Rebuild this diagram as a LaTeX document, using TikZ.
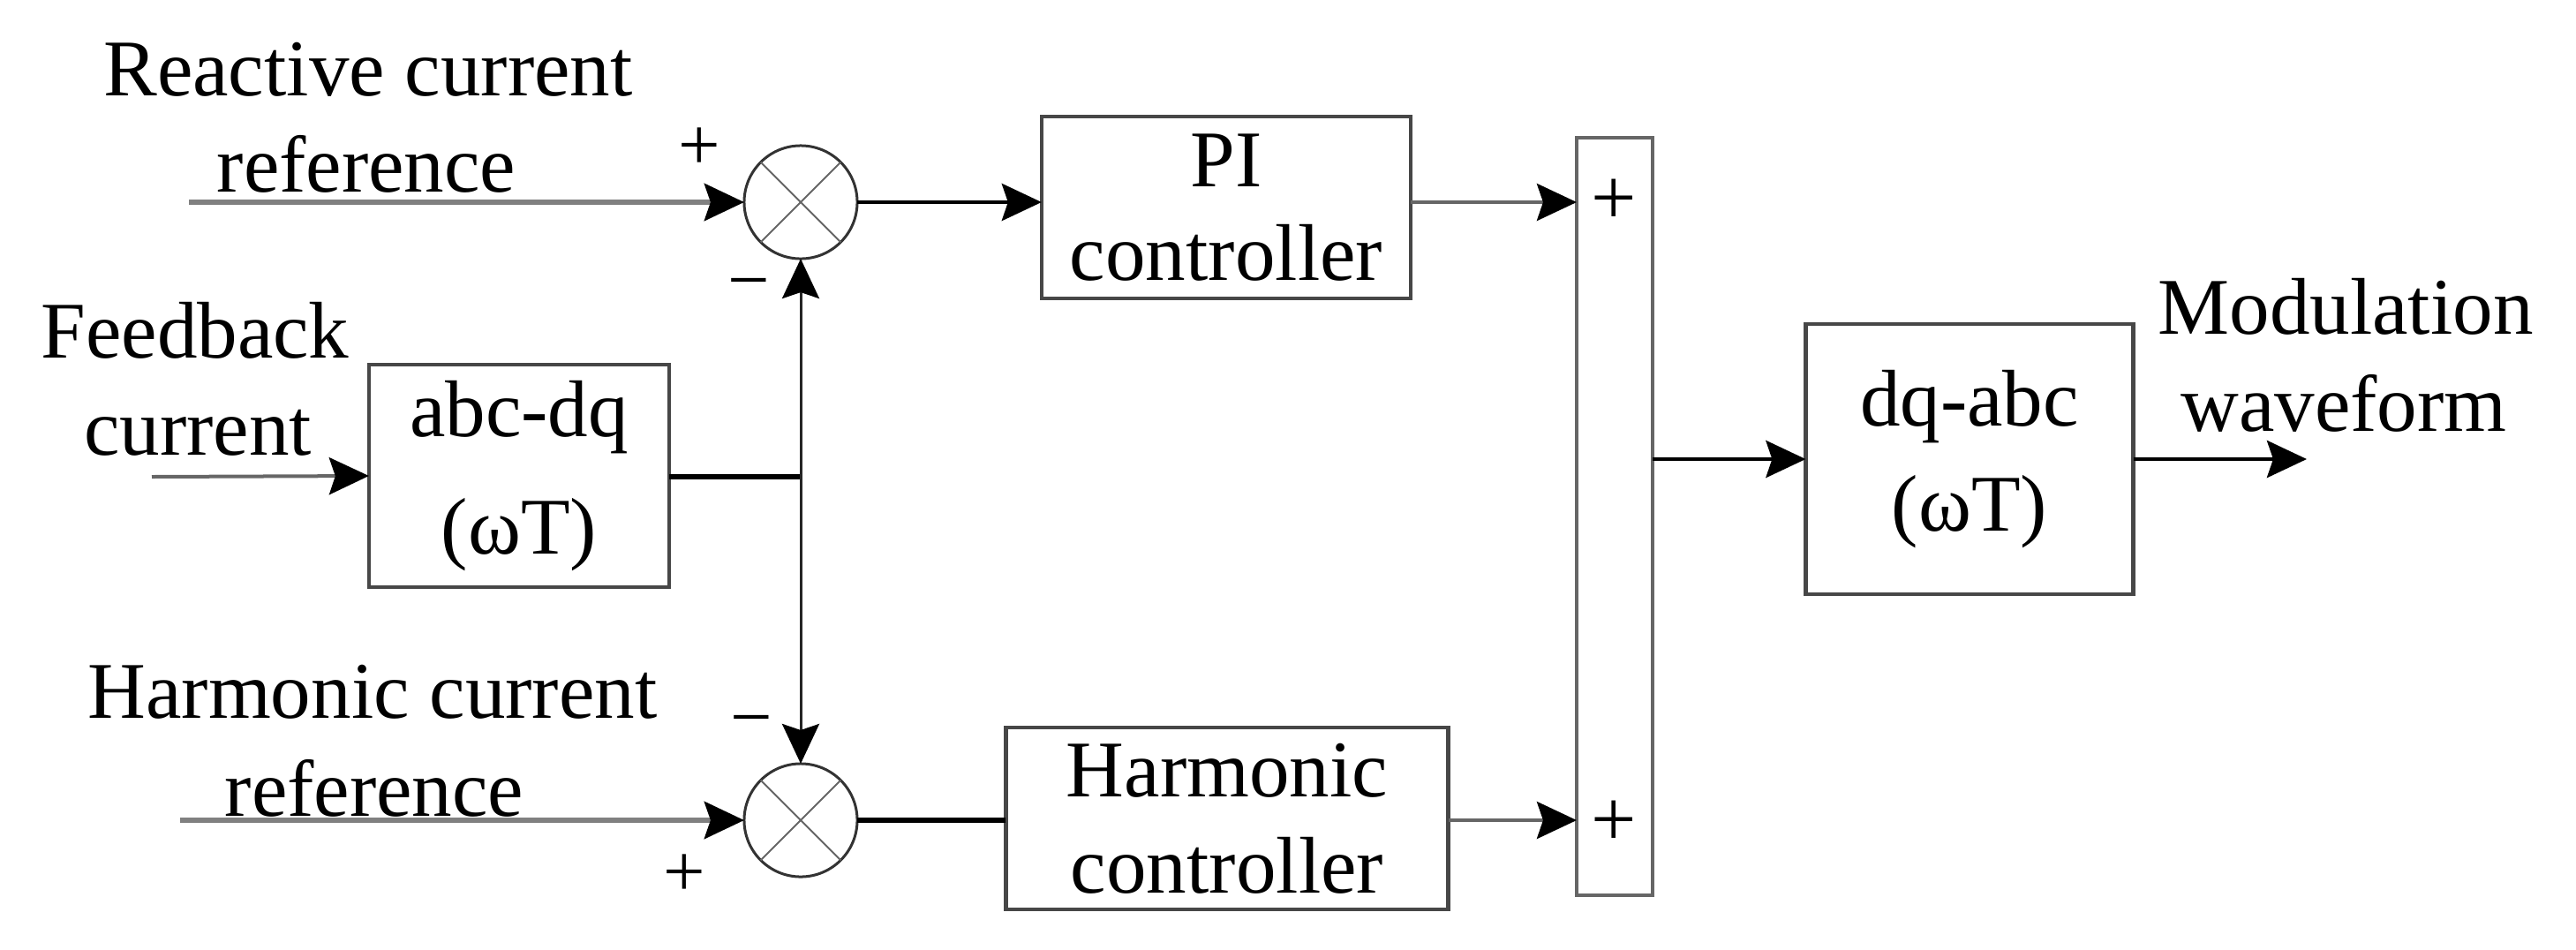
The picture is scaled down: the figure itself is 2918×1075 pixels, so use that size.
\documentclass[tikz,border=0pt]{standalone}
\usepackage{fontspec}
\setmainfont{Liberation Serif}
\usetikzlibrary{arrows.meta}
\begin{document}
\begin{tikzpicture}[x=0.01cm,y=-0.01cm,
  every node/.style={font=\fontsize{25.9}{31}\selectfont, inner sep=0pt, outer sep=0pt},
  blk/.style={draw=black!72, line width=0.045cm, align=center},
  sumc/.style={circle, draw=black!80, line width=0.03cm, minimum size=1.28cm},
  crossl/.style={draw=black!60, line width=0.02cm},
  inl/.style={draw=black!50, line width=0.065cm},
  blkl/.style={draw=black, line width=0.045cm},
  thinl/.style={draw=black!85, line width=0.03cm},
  grl/.style={draw=black!60, line width=0.04cm},
  arr/.style={-{Stealth[length=0.45cm,width=0.42cm,inset=0.07cm,color=black]}},
  sgn/.style={font=\fontsize{24}{28}\selectfont}
]
\useasboundingbox (0,0) rectangle (2918,1075);

% labels
\node[anchor=base] (rt1) at (417,108) {Reactive current};
\node[anchor=base] (rt2) at (415,217) {reference};
\node[anchor=base] (ft1) at (221,405) {Feedback};
\node[anchor=base] (ft2) at (224,515) {current};
\node[anchor=base] (ht1) at (422,813) {Harmonic current};
\node[anchor=base] (ht2) at (424,924) {reference};
\node[anchor=base] (mt1) at (2657,378) {Modulation};
\node[anchor=base] (mt2) at (2655,488) {waveform};

% summing junctions
\node[sumc] (c1) at (907,229) {};
\node[sumc] (c2) at (907,929) {};
\foreach \c in {c1,c2}{
  \draw[crossl] (\c.north east) -- (\c.south west);
  \draw[crossl] (\c.north west) -- (\c.south east);
}
\node[sgn] (p1) at (792,169) {+};
\node[sgn] (m1) at (848,330) {−};
\node[sgn] (m2) at (851,825) {−};
\node[sgn] (p2) at (775,992) {+};

% blocks
\node[blk, minimum width=3.4cm, minimum height=2.52cm,
      font=\fontsize{25.9}{38}\selectfont] (abc) at (588,539) {abc-dq\\(ωT)};
\node[blk, minimum width=4.18cm, minimum height=2.06cm,
      font=\fontsize{25.9}{30}\selectfont] (pi) at (1389,235) {PI\\controller};
\node[blk, minimum width=5.01cm, minimum height=2.06cm,
      font=\fontsize{25.9}{31}\selectfont] (hc) at (1390,927) {Harmonic\\controller};
\node[draw=black!60, line width=0.04cm, minimum width=0.86cm, minimum height=8.58cm] (bar) at (1829,585) {};
\node (bp1) at (1828,229) {+};
\node (bp2) at (1828,933) {+};
\node[blk, minimum width=3.71cm, minimum height=3.06cm,
      font=\fontsize{25.9}{34}\selectfont] (dq) at (2231,520) {dq-abc\\(ωT)};

% coordinates
\coordinate (rin) at (214,229);
\coordinate (fin) at (172,540);
\coordinate (hin) at (204,929);
\coordinate (j) at (907,540);
\coordinate (mout) at (2613,520);

% connectors
\draw[inl,arr] (rin) -- (c1.west);
\draw[inl,arr] (hin) -- (c2.west);
\draw[grl,arr] (fin) -- (abc.west);
\draw[blkl, line width=0.06cm] (abc.east |- j) -- (j);
\draw[thinl,arr] (j) -- (c1.south);
\draw[thinl,arr] (j) -- (c2.north);
\draw[blkl,arr] (c1.east) -- (c1.east -| pi.west);
\draw[blkl, line width=0.06cm] (c2.east) -- (c2.east -| hc.west);
\draw[grl,arr] (pi.east |- c1) -- (c1 -| bar.west);
\draw[grl,arr] (hc.east |- c2) -- (c2 -| bar.west);
\draw[blkl,arr] (bar.east |- dq.west) -- (dq.west);
\draw[blkl,arr] (dq.east) -- (mout);
\end{tikzpicture}
\end{document}
